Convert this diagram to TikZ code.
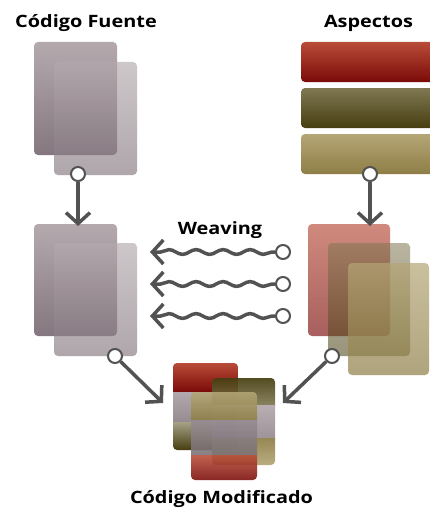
\documentclass[tikz,border=0pt]{standalone}
\usepackage{fontspec}
\newfontfamily\lab{Open Sans}
\usetikzlibrary{arrows.meta,decorations.pathmorphing}
\definecolor{linegray}{RGB}{82,82,82}
\definecolor{redT}{RGB}{184,76,56}
\definecolor{redB}{RGB}{122,10,8}
\definecolor{odT}{RGB}{128,120,82}
\definecolor{odB}{RGB}{70,62,16}
\definecolor{olT}{RGB}{180,166,118}
\definecolor{olB}{RGB}{142,126,70}
\definecolor{mvT}{RGB}{180,170,174}
\definecolor{mvB}{RGB}{132,119,127}
\definecolor{gyT}{RGB}{178,168,173}
\definecolor{gyB}{RGB}{150,139,145}
\newcommand{\wide}[1]{\scalebox{1.17}[1]{#1}}
\begin{document}
\begin{tikzpicture}[x=1pt,y=-1pt,
  conn/.style={draw=linegray, line width=3.5pt, -{Straight Barb[length=11pt,width=24pt]}},
  port/.style={circle, draw=linegray, line width=2pt, fill=white, minimum size=14pt, inner sep=0pt},
  wave/.style={conn, decorate, decoration={snake, amplitude=2.4pt, segment length=27pt, pre length=3pt, post length=10pt}},
  title/.style={font=\lab\bfseries\fontsize{17}{20}\selectfont, text=black, inner sep=0pt, anchor=base},
  card/.style={rounded corners=4pt}
]
\useasboundingbox (0,0) rectangle (430,511);
\fill[white] (0,0) rectangle (430,511);

% titles
\node[title] (tSrc) at (86,28) {\wide{Código Fuente}};
\node[title] (tAsp) at (368.5,28) {\wide{Aspectos}};
\node[title] (tWv) at (220,234) {\wide{Weaving}};
\node[title] (tMod) at (221.5,503) {\wide{Código Modificado}};

% source code (top)
\shade[card, top color=mvT, bottom color=mvB] (34,42) rectangle (117,155);
\shade[card, top color=mvT, bottom color=mvB, fill opacity=0.65] (54,62) rectangle (137,175);

% source code (middle)
\shade[card, top color=mvT, bottom color=mvB] (34,224) rectangle (117,336);
\shade[card, top color=mvT, bottom color=mvB, fill opacity=0.65] (54,243) rectangle (137,356);

% aspects bars
\shade[card, top color=redT, bottom color=redB] (301,42) rectangle (436,82);
\shade[card, top color=odT, bottom color=odB] (301,88) rectangle (436,128);
\shade[card, top color=olT, bottom color=olB] (301,134) rectangle (436,174);

% aspects (middle)
\shade[card, top color=redT, bottom color=redB, fill opacity=0.65] (308,224) rectangle (390,336);
\shade[card, top color=odT, bottom color=odB, fill opacity=0.55] (328,243) rectangle (410,356);
\shade[card, top color=olT, bottom color=olB, fill opacity=0.7] (348,263) rectangle (429,375);

% modified code (bottom)
\begin{scope}
  \clip[card] (173,363) rectangle (238,450);
  \shade[top color=redT, bottom color=redB] (173,363) rectangle (238,392);
  \shade[top color=gyT, bottom color=gyB] (173,392) rectangle (238,422);
  \shade[top color=odT!70, bottom color=odB] (173,422) rectangle (238,450);
\end{scope}
\begin{scope}[transparency group, opacity=0.92]
  \clip[card] (212,378) rectangle (275,465);
  \shade[top color=odB, bottom color=odT] (212,378) rectangle (275,405);
  \shade[top color=gyT, bottom color=gyB] (212,405) rectangle (275,438);
  \shade[top color=olB, bottom color=olT] (212,438) rectangle (275,465);
\end{scope}
\begin{scope}[transparency group, opacity=0.88]
  \clip[card] (191,392) rectangle (257,480);
  \shade[top color=olT, bottom color=olB] (191,392) rectangle (257,420);
  \shade[top color=gyB, bottom color=gyB!80!black] (191,420) rectangle (257,455);
  \shade[top color=redT, bottom color=redB] (191,455) rectangle (257,480);
\end{scope}

% ports
\node[port] (pSrc) at (78,174) {};
\node[port] (pAsp) at (370,174) {};
\node[port] (pW1) at (283,252) {};
\node[port] (pW2) at (283,284) {};
\node[port] (pW3) at (283,316) {};
\node[port] (pL) at (115,356) {};
\node[port] (pR) at (332,356) {};

% arrow ends
\coordinate (eSrc) at (78,226);
\coordinate (eAsp) at (370,226);
\coordinate (eW1) at (150,252);
\coordinate (eW2) at (150,284);
\coordinate (eW3) at (150,316);
\coordinate (eL) at (163,403);
\coordinate (eR) at (283,403);

% connectors
\draw[conn] (pSrc) -- (eSrc);
\draw[conn] (pAsp) -- (eAsp);
\draw[wave] (pW1.west) -- (eW1);
\draw[wave] (pW2.west) -- (eW2);
\draw[wave] (pW3.west) -- (eW3);
\draw[conn] (pL) -- (eL);
\draw[conn] (pR) -- (eR);
\end{tikzpicture}
\end{document}
